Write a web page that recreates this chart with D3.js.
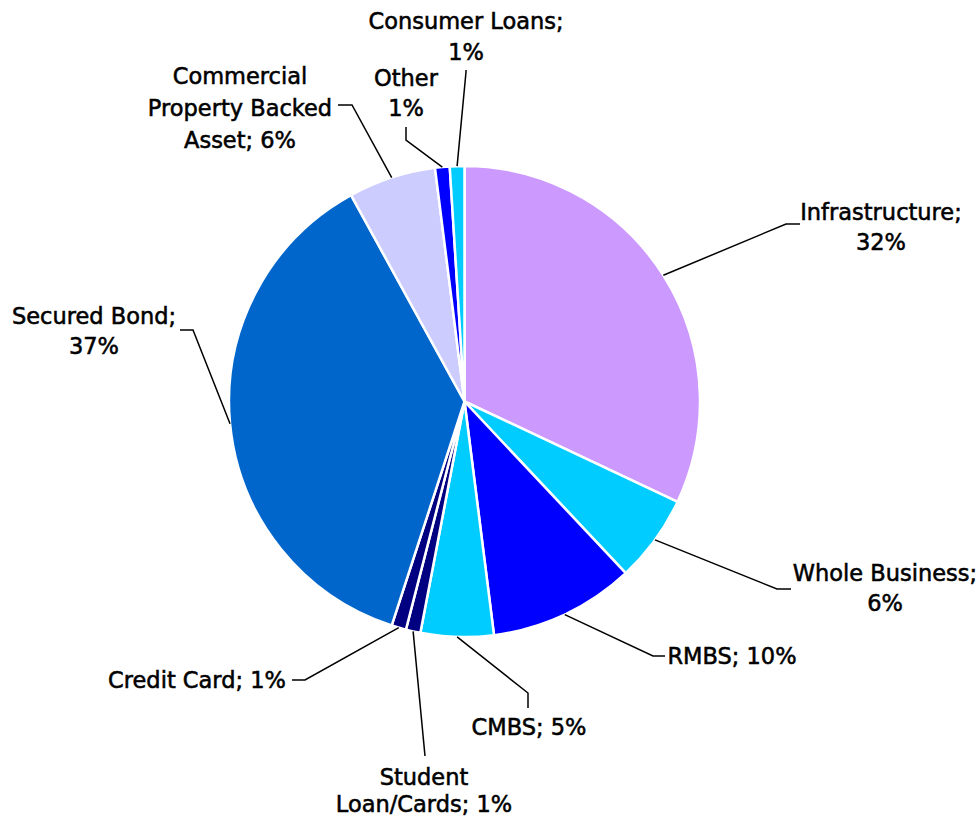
<!DOCTYPE html>
<html>
<head>
<meta charset="utf-8">
<script src="https://cdn.jsdelivr.net/npm/d3@7"></script>
<style>
  html, body { margin: 0; padding: 0; background: #fff; }
  svg { display: block; }
  .lbl { font-family: "DejaVu Sans", sans-serif; font-size: 22.5px; fill: #000;
         stroke: #000; stroke-width: 0.55px; }
</style>
</head>
<body>
<svg id="chart" width="979" height="817"></svg>
<script>
// Portfolio split by asset type, in percent, clockwise from 12 o'clock
const categories = ["Infrastructure", "Whole Business", "RMBS", "CMBS", "Student Loan/Cards",
                    "Credit Card", "Secured Bond", "Commercial Property Backed Asset", "Other", "Consumer Loans"];
const values = [32, 6, 10, 5, 1, 1, 37, 6, 1, 1];
const colors = ["#CC99FF", "#00CCFF", "#0000FF", "#00CCFF", "#000080",
                "#000080", "#0066CC", "#CCCCFF", "#0000FF", "#00CCFF"];

// Label text broken into lines
const labelLines = [
  ["Infrastructure;", "{v}%"],
  ["Whole Business;", "{v}%"],
  ["RMBS; {v}%"],
  ["CMBS; {v}%"],
  ["Student", "Loan/Cards; {v}%"],
  ["Credit Card; {v}%"],
  ["Secured Bond;", "{v}%"],
  ["Commercial", "Property Backed", "Asset; {v}%"],
  ["Other", "{v}%"],
  ["Consumer Loans;", "{v}%"]
];

// Label placement: text centre, first line y, line step, and leader-line bend points
const labelLayout = [
  { x: 881, y: 212, step: 30, bends: [[786, 224], [800, 224]] },
  { x: 885, y: 573, step: 30, bends: [[777, 589], [791, 589]] },
  { x: 732, y: 656, step: 30, bends: [[653, 656], [665, 656]] },
  { x: 529, y: 727, step: 30, bends: [[528, 693], [528, 708]] },
  { x: 424, y: 777, step: 27, bends: [[425, 756]] },
  { x: 197, y: 680, step: 30, bends: [[305, 680], [292, 680]] },
  { x: 94,  y: 316, step: 30, bends: [[193, 330], [180, 330]] },
  { x: 240, y: 76,  step: 32, bends: [[352, 105], [338, 105]] },
  { x: 406, y: 78,  step: 30, bends: [[406, 140], [406, 127]] },
  { x: 466, y: 21,  step: 31, bends: [[466, 72], [466, 70]] }
];

const cx = 464.5, cy = 401.5, radius = 235.5;

const svg = d3.select("#chart");
const g = svg.append("g").attr("transform", `translate(${cx},${cy})`);

const pie = d3.pie().sort(null).value(d => d.value).startAngle(0).endAngle(2 * Math.PI);
const data = categories.map((c, i) => ({ name: c, value: values[i], color: colors[i], i }));
const arcs = pie(data);
const arc = d3.arc().innerRadius(0).outerRadius(radius);

g.selectAll("path.slice")
  .data(arcs)
  .join("path")
  .attr("class", "slice")
  .attr("d", arc)
  .attr("fill", d => d.data.color)
  .attr("stroke", "#fff")
  .attr("stroke-width", 2.5)
  .attr("stroke-linejoin", "round");

// Leader lines: from slice edge at its mid-angle through the bend points
const edgePoint = d => {
  const a = (d.startAngle + d.endAngle) / 2;
  return [cx + radius * Math.sin(a), cy - radius * Math.cos(a)];
};

svg.append("g").selectAll("polyline")
  .data(arcs)
  .join("polyline")
  .attr("points", d => [edgePoint(d), ...labelLayout[d.data.i].bends].map(p => p.join(",")).join(" "))
  .attr("fill", "none")
  .attr("stroke", "#000")
  .attr("stroke-width", 1.5);

// Labels
const lbl = svg.append("g").selectAll("text")
  .data(arcs)
  .join("text")
  .attr("class", "lbl")
  .attr("text-anchor", "middle");

lbl.each(function(d) {
  const L = labelLayout[d.data.i];
  const lines = labelLines[d.data.i].map(s => s.replace("{v}", d.data.value));
  d3.select(this).selectAll("tspan")
    .data(lines)
    .join("tspan")
    .attr("x", L.x)
    .attr("y", (s, k) => L.y + k * L.step)
    .attr("dy", "0.36em")
    .text(s => s);
});
</script>
</body>
</html>
